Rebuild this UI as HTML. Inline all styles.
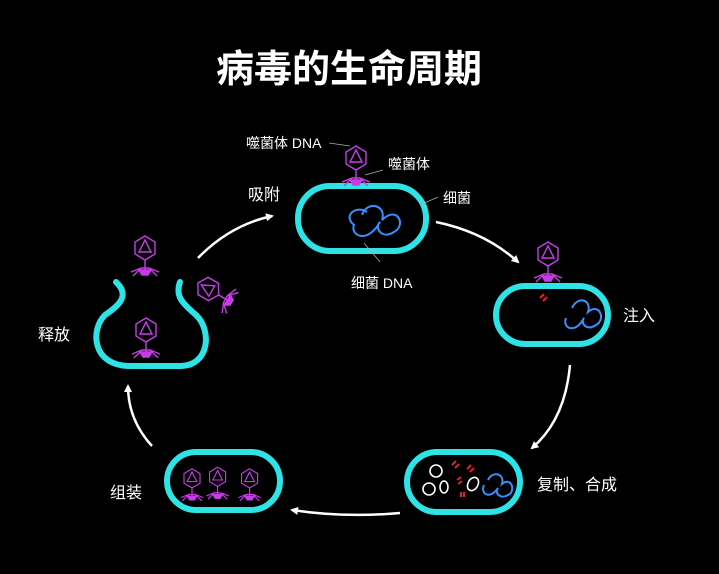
<!DOCTYPE html>
<html><head><meta charset="utf-8"><style>
body{margin:0;background:#000;width:719px;height:569px;overflow:hidden}
text{font-family:"Liberation Sans","Noto Sans CJK SC",sans-serif;fill:#fff}
</style></head><body>
<svg width="719" height="569" viewBox="0 0 719 569">
<defs>
<marker id="a" markerWidth="8" markerHeight="8" refX="6" refY="4" orient="auto" markerUnits="userSpaceOnUse"><path d="M0,0 L8,4 L0,8 z" fill="#fff"/></marker>
<g id="ph" stroke="#c83ce8" stroke-width="1.4" fill="none">
<polygon points="0,-14 10,-8 10,4 0,10 -10,4 -10,-8"/>
<polygon points="0,-10 6,2 -6,2"/>
<line x1="0" y1="10" x2="0" y2="20"/>
<path d="M-12,26 L-4,18 L4,18 L12,26 M-4,18 L-14,22 M4,18 L14,22" />
<path d="M-6,20 L6,20 L3,25 L-3,25z" fill="#c83ce8"/>
</g>
</defs>
<text x="349" y="82" font-size="38" font-weight="bold" text-anchor="middle">病毒的生命周期</text>
<g fill="none" stroke="#2ee3e6" stroke-width="6">
<rect x="298" y="186" width="128" height="65" rx="32"/>
<rect x="496" y="286" width="112" height="58" rx="29"/>
<rect x="407" y="452" width="113" height="60" rx="30"/>
<rect x="167" y="452" width="113" height="58" rx="29"/>
<path d="M116,282 C130,295 120,305 105,315 C90,330 92,366 130,366 L180,366 C210,366 212,330 196,315 C182,303 175,296 180,282" stroke-linecap="round"/>
</g>
<g fill="none" stroke="#fff" stroke-width="2.5" marker-end="url(#a)">
<path d="M198,258 Q230,225 272,216"/>
<path d="M436,222 Q485,232 518,262"/>
<path d="M570,365 Q565,420 532,448"/>
<path d="M400,513 Q345,518 292,510"/>
<path d="M152,446 Q128,420 128,386"/>
</g>
<use href="#ph" x="356" y="160"/>
<use href="#ph" x="548" y="256"/>
<use href="#ph" x="145" y="250"/>
<use href="#ph" x="146" y="332"/>
<use href="#ph" x="210" y="290" transform="rotate(-60 210 290)"/>
<use href="#ph" x="192" y="480" transform="scale(0.8) translate(48 120)"/>
<use href="#ph" x="218" y="478" transform="scale(0.8) translate(54 120)"/>
<use href="#ph" x="250" y="480" transform="scale(0.8) translate(62 120)"/>
<g stroke="#3a8fff" stroke-width="2" fill="none">
<path d="M362,215 C367,200 387,205 382,220 C397,205 407,225 394,232 C382,240 374,228 380,222 C367,245 350,235 354,225 C342,215 357,205 367,212"/>
<path d="M572,308 C578,295 592,300 588,312 C600,302 606,320 596,325 C586,332 580,322 584,318 C575,335 562,328 566,318"/>
<path d="M488,480 C493,470 505,474 502,484 C512,476 516,492 508,495 C500,500 494,492 498,488 C490,500 480,494 484,485"/>
</g>
<g stroke="#fff" stroke-width="1.6" fill="none">
<circle cx="436" cy="471" r="6"/><circle cx="429" cy="489" r="6"/>
<ellipse cx="444" cy="487" rx="4" ry="6"/><ellipse cx="473" cy="484" rx="5" ry="7" transform="rotate(30 473 484)"/>
</g>
<g stroke="#e0202a" stroke-width="2">
<path d="M540,298 l4,-4 M543,301 l4,-4"/>
<path d="M452,465 l4,-4 M455,468 l4,-4 M467,469 l4,-4 M470,472 l4,-4 M457,480 l4,-3 M458,484 l4,-3 M461,492 l0,5 M464,492 l0,5"/>
</g>
<g stroke="#aaa" stroke-width="0.8">
<line x1="329" y1="143" x2="350" y2="146"/>
<line x1="383" y1="170" x2="365" y2="175"/>
<line x1="420" y1="205" x2="438" y2="197"/>
<line x1="364" y1="243" x2="380" y2="262"/>
</g>
<g font-size="14">
<text x="246" y="148">噬菌体 DNA</text>
<text x="388" y="169">噬菌体</text>
<text x="443" y="203">细菌</text>
<text x="351" y="288">细菌 DNA</text>
</g>
<g font-size="16">
<text x="248" y="200">吸附</text>
<text x="623" y="321">注入</text>
<text x="537" y="490">复制、合成</text>
<text x="110" y="498">组装</text>
<text x="38" y="340">释放</text>
</g>
</svg>
</body></html>
